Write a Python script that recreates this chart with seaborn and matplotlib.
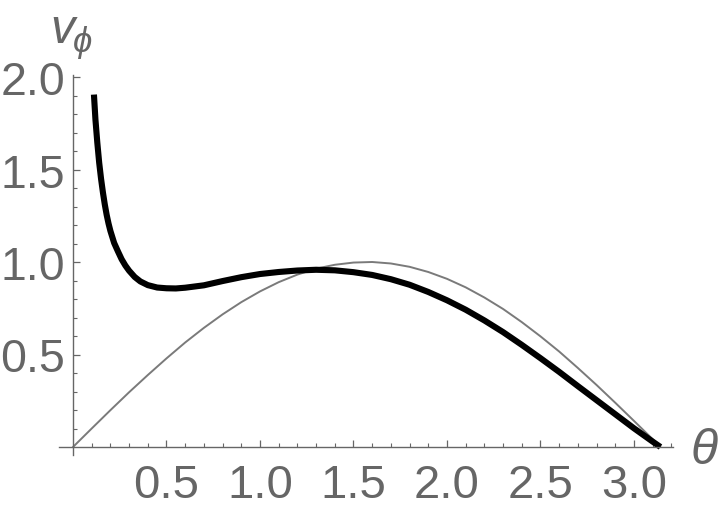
import matplotlib
matplotlib.use("Agg")
import matplotlib.pyplot as plt
from matplotlib.ticker import FixedLocator
import seaborn as sns
import pandas as pd

# ---- data ----
theta_bold = [0.112, 0.12, 0.13, 0.14, 0.15, 0.16, 0.17, 0.18, 0.19, 0.20, 0.22,
              0.24, 0.26, 0.28, 0.30, 0.33, 0.36, 0.40, 0.45, 0.50, 0.55, 0.60,
              0.70, 0.80, 0.90, 1.00, 1.10, 1.20, 1.30, 1.40, 1.50, 1.60, 1.70,
              1.80, 1.90, 2.00, 2.10, 2.20, 2.30, 2.40, 2.50, 2.60, 2.70, 2.80,
              2.90, 3.00, 3.10, 3.1416]
v_bold = [1.905, 1.77, 1.645, 1.537, 1.45, 1.376, 1.311, 1.255, 1.208, 1.168, 1.103,
          1.058, 1.015, 0.981, 0.953, 0.919, 0.895, 0.875, 0.862, 0.858, 0.857, 0.861,
          0.874, 0.897, 0.918, 0.935, 0.946, 0.954, 0.958, 0.955, 0.945, 0.930, 0.907,
          0.877, 0.838, 0.793, 0.742, 0.684, 0.621, 0.552, 0.480, 0.406, 0.329, 0.253,
          0.177, 0.101, 0.029, 0.0]

theta_thin = [0.0, 0.1, 0.2, 0.3, 0.4, 0.5, 0.6, 0.7, 0.8, 0.9, 1.0, 1.1, 1.2, 1.3,
              1.4, 1.5, 1.6, 1.7, 1.8, 1.9, 2.0, 2.1, 2.2, 2.3, 2.4, 2.5, 2.6, 2.7,
              2.8, 2.9, 3.0, 3.1, 3.1416]
v_thin = [0.0, 0.100, 0.199, 0.296, 0.389, 0.479, 0.565, 0.644, 0.717, 0.783, 0.841,
          0.891, 0.932, 0.964, 0.985, 0.997, 1.000, 0.992, 0.974, 0.946, 0.909, 0.863,
          0.808, 0.746, 0.675, 0.598, 0.516, 0.427, 0.335, 0.239, 0.141, 0.042, 0.0]

x_major = [0.5, 1.0, 1.5, 2.0, 2.5, 3.0]
x_labels = ["0.5", "1.0", "1.5", "2.0", "2.5", "3.0"]
y_major = [0.5, 1.0, 1.5, 2.0]
y_labels = ["0.5", "1.0", "1.5", "2.0"]

df_bold = pd.DataFrame({"theta": theta_bold, "v": v_bold})
df_thin = pd.DataFrame({"theta": theta_thin, "v": v_thin})

sns.set_style("white")
plt.rcParams["font.family"] = ["Liberation Sans", "DejaVu Sans"]

GRAY = "#666666"
W, H, DPI = 720, 510, 100
fig = plt.figure(figsize=(W / DPI, H / DPI), dpi=DPI)
ax = fig.add_axes([0, 0, 1, 1])

# pixel geometry of the reference: origin at (73, 448), 187 px per x unit, 185 px per y unit
ox, oy, sx, sy = 73, 448, 187.0, 185.0
ax.set_xlim(-ox / sx, (W - ox) / sx)
ax.set_ylim(-(H - oy) / sy, oy / sy)

sns.lineplot(data=df_thin, x="theta", y="v", ax=ax, color="#7a7a7a", lw=1.4,
             sort=False, estimator=None)
sns.lineplot(data=df_bold, x="theta", y="v", ax=ax, color="black", lw=4.4,
             sort=False, estimator=None, solid_capstyle="butt")

ax.set_xlabel("")
ax.set_ylabel("")
for s in ["top", "right"]:
    ax.spines[s].set_visible(False)
for s in ["left", "bottom"]:
    ax.spines[s].set_visible(True)
    ax.spines[s].set_color(GRAY)
    ax.spines[s].set_linewidth(1.0)
    ax.spines[s].set_position(("data", 0))
ax.spines["bottom"].set_bounds((59 - ox) / sx, (673 - ox) / sx)
ax.spines["left"].set_bounds(-(456 - oy) / sy, (oy - 76) / sy)

ax.xaxis.set_major_locator(FixedLocator(x_major))
ax.set_xticklabels(x_labels)
ax.yaxis.set_major_locator(FixedLocator(y_major))
ax.set_yticklabels(y_labels)
ax.xaxis.set_minor_locator(FixedLocator([i / 10 for i in range(1, 33) if i % 5]))
ax.yaxis.set_minor_locator(FixedLocator([i / 10 for i in range(1, 20) if i % 5]))

ax.tick_params(axis="both", which="major", direction="in", length=5.2, width=0.9,
               color=GRAY, labelcolor=GRAY, labelsize=34)
ax.tick_params(axis="both", which="minor", direction="in", length=3.0, width=0.8,
               color=GRAY)
ax.tick_params(axis="x", which="major", pad=11.5)
ax.tick_params(axis="y", which="major", labelsize=33.5, pad=5.5)
ax.tick_params(axis="x", which="both", bottom=True, top=False)
ax.tick_params(axis="y", which="both", left=True, right=False)
ax.set_facecolor("white")
ax.grid(False)

# axis labels
fig.text(50 / W, 1 - 43 / H, "v", fontsize=35, style="italic", color=GRAY,
         ha="left", va="baseline")
fig.text(73 / W, 1 - 52 / H, "\u03d5", fontsize=25, style="italic", color=GRAY,
         ha="left", va="baseline", family=["Liberation Sans", "DejaVu Sans"])
fig.text(691 / W, 1 - 451 / H, "\u03b8", fontsize=36, style="italic", color=GRAY,
         ha="left", va="center")

fig.savefig("out.png", dpi=DPI, facecolor="white")
